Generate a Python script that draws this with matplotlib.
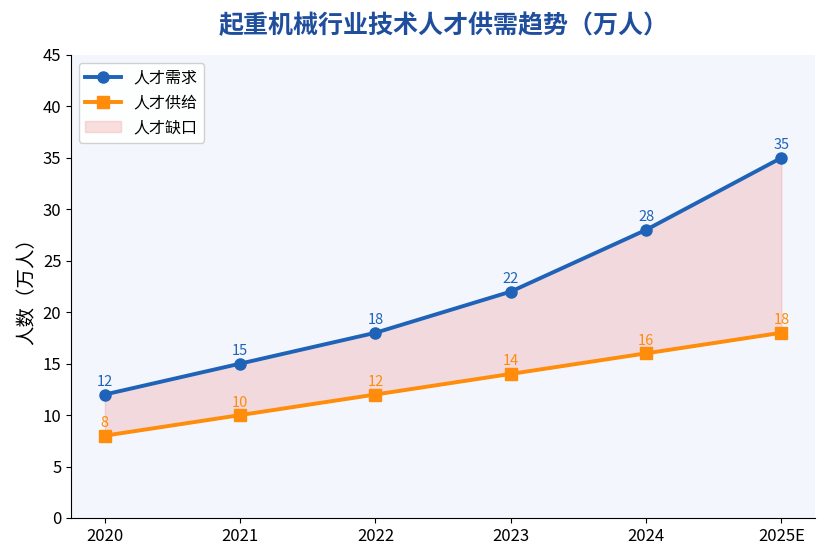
import matplotlib
matplotlib.use("Agg")
import matplotlib.pyplot as plt
import numpy as np

plt.rcParams['font.family'] = ['Noto Sans CJK SC', 'DejaVu Sans']

# data
years = ['2020', '2021', '2022', '2023', '2024', '2025E']
demand = [12, 15, 18, 22, 28, 35]
supply = [8, 10, 12, 14, 16, 18]

x = np.arange(len(years))
blue = '#1f63b8'
orange = '#ff8c0a'

fig = plt.figure(figsize=(8.26, 5.6), dpi=100)
ax = fig.add_axes([0.086, 0.075, 0.901, 0.827])
ax.set_facecolor('#f3f7fd')

ax.plot(x, demand, color=blue, lw=2.8, marker='o', ms=8, label='人才需求', zorder=3)
ax.plot(x, supply, color=orange, lw=2.8, marker='s', ms=8, label='人才供给', zorder=3)
ax.fill_between(x, supply, demand, color='lightcoral', alpha=0.25, label='人才缺口', zorder=2)

for xi, v in zip(x, demand):
    ax.annotate(str(v), (xi, v), xytext=(0, 4), textcoords='offset points',
                ha='center', va='bottom', color=blue, fontsize=10.5)
for xi, v in zip(x, supply):
    ax.annotate(str(v), (xi, v), xytext=(0, 4), textcoords='offset points',
                ha='center', va='bottom', color=orange, fontsize=10.5)

ax.set_xlim(-0.25, 5.25)
ax.set_ylim(0, 45)
ax.set_xticks(x)
ax.set_xticklabels(years)
ax.set_yticks(range(0, 46, 5))
ax.tick_params(labelsize=12)
ax.spines['top'].set_visible(False)
ax.spines['right'].set_visible(False)

ax.set_ylabel('人数（万人）', fontsize=14)
ax.set_title('起重机械行业技术人才供需趋势（万人）', fontsize=18, fontweight='bold',
             color='#1f4e9c', pad=16)

ax.legend(loc='upper left', fontsize=11.5, framealpha=0.9, edgecolor='#cccccc',
          handlelength=2.2, borderaxespad=0.5)

fig.savefig('out.png', dpi=100)
